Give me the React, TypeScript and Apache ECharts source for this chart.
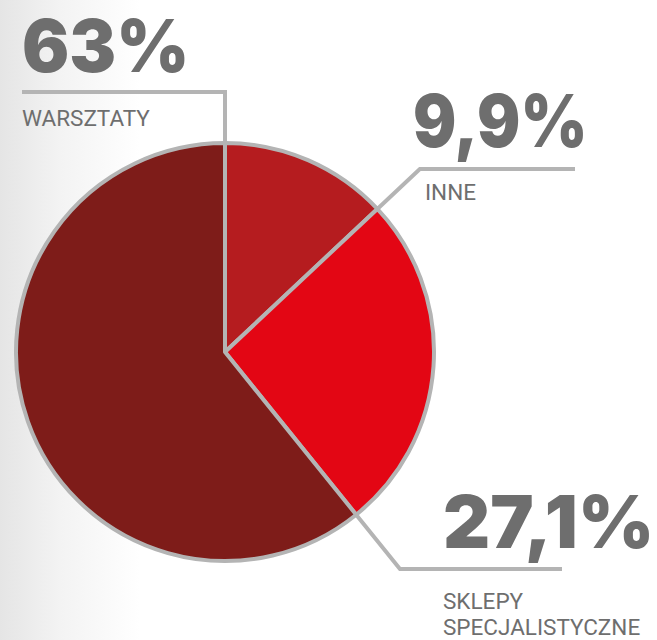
import React, { useEffect, useRef } from "react";
import * as echarts from "echarts";

// ---- data ----
const categories = ["INNE", "SKLEPY\nSPECJALISTYCZNE", "WARSZTATY"];
const percentLabels = ["9,9%", "27,1%", "63%"];
// sector sizes as they are drawn in the reference picture (clockwise from 12 o'clock)
const sliceShares = [13.0, 26.2, 60.8];

// ---- styles / layout ----
const sliceColors = ["#B51C1F", "#E30614", "#7E1C19"];
const BORDER = "#B4B4B4";
const TEXT = "#6E6E6E";
const CX = 225;
const CY = 352;
const R = 209;

export default function App() {
  const ref = useRef<HTMLDivElement>(null);

  useEffect(() => {
    if (!ref.current) return;
    const chart = echarts.init(ref.current, null, { renderer: "svg" });
    const total = sliceShares.reduce((a, b) => a + b, 0);
    const ends: number[] = [];
    let acc = 0;
    sliceShares.forEach((v) => {
      acc += v;
      ends.push((acc / total) * Math.PI * 2);
    });
    const edgePoint = (theta: number) => [CX + R * Math.sin(theta), CY - R * Math.cos(theta)];
    const radialAtY = (theta: number, y: number) => {
      const t = (CY - y) / Math.cos(theta);
      return [CX + t * Math.sin(theta), y];
    };

    const lineStyle = { stroke: BORDER, lineWidth: 4, fill: null, lineJoin: "miter" as const };

    // leader lines: extensions of slice boundaries
    const innePts = [edgePoint(ends[0]), radialAtY(ends[0], 169), [575, 169]];
    const sklepyPts = [edgePoint(ends[1]), radialAtY(ends[1], 569), [562, 569]];
    const warszPts = [edgePoint(0), [CX, 92], [22, 92]];

    const bigFont = { fontSize: 73, fontWeight: 900, fontFamily: "Inter", fill: TEXT, align: "left", verticalAlign: "middle" };
    const smallFont = { fontSize: 22.5, fontWeight: 400, fontFamily: "Roboto", fill: TEXT, align: "left", verticalAlign: "middle", lineHeight: 20 };
    const sklepyLines = categories[1].split("\n");

    chart.setOption({
      animation: false,
      series: [
        {
          type: "pie",
          center: [CX, CY],
          radius: R,
          startAngle: 90,
          clockwise: true,
          silent: true,
          label: { show: false },
          labelLine: { show: false },
          emphasis: { disabled: true },
          itemStyle: { borderColor: BORDER, borderWidth: 4 },
          data: categories.map((name, i) => ({
            name,
            value: sliceShares[i],
            itemStyle: { color: sliceColors[i] },
          })),
        },
      ],
      graphic: [
        { type: "polyline", z: 10, shape: { points: warszPts }, style: lineStyle },
        { type: "polyline", z: 10, shape: { points: innePts }, style: lineStyle },
        { type: "polyline", z: 10, shape: { points: sklepyPts }, style: lineStyle },
        { type: "text", z: 10, x: 22, y: 45, scaleX: 0.96, style: { ...bigFont, text: percentLabels[2] } },
        { type: "text", z: 10, x: 22, y: 118, style: { ...smallFont, text: categories[2] } },
        { type: "text", z: 10, x: 413, y: 120, scaleX: 0.88, style: { ...bigFont, text: percentLabels[0] } },
        { type: "text", z: 10, x: 425, y: 192, style: { ...smallFont, text: categories[0] } },
        { type: "text", z: 10, x: 443, y: 521, style: { ...bigFont, text: percentLabels[1] } },
        { type: "text", z: 10, x: 443, y: 601, style: { ...smallFont, text: sklepyLines[0] } },
        { type: "text", z: 10, x: 443, y: 627, style: { ...smallFont, text: sklepyLines[1] } },
      ],
    });
    return () => chart.dispose();
  }, []);

  return (
    <div
      ref={ref}
      style={{
        position: "fixed",
        left: 0,
        top: 0,
        width: 657,
        height: 640,
        background: "linear-gradient(to right, #e5e5e5 0px, #f3f3f3 60px, #ffffff 140px, #ffffff 100%)",
      }}
    />
  );
}
